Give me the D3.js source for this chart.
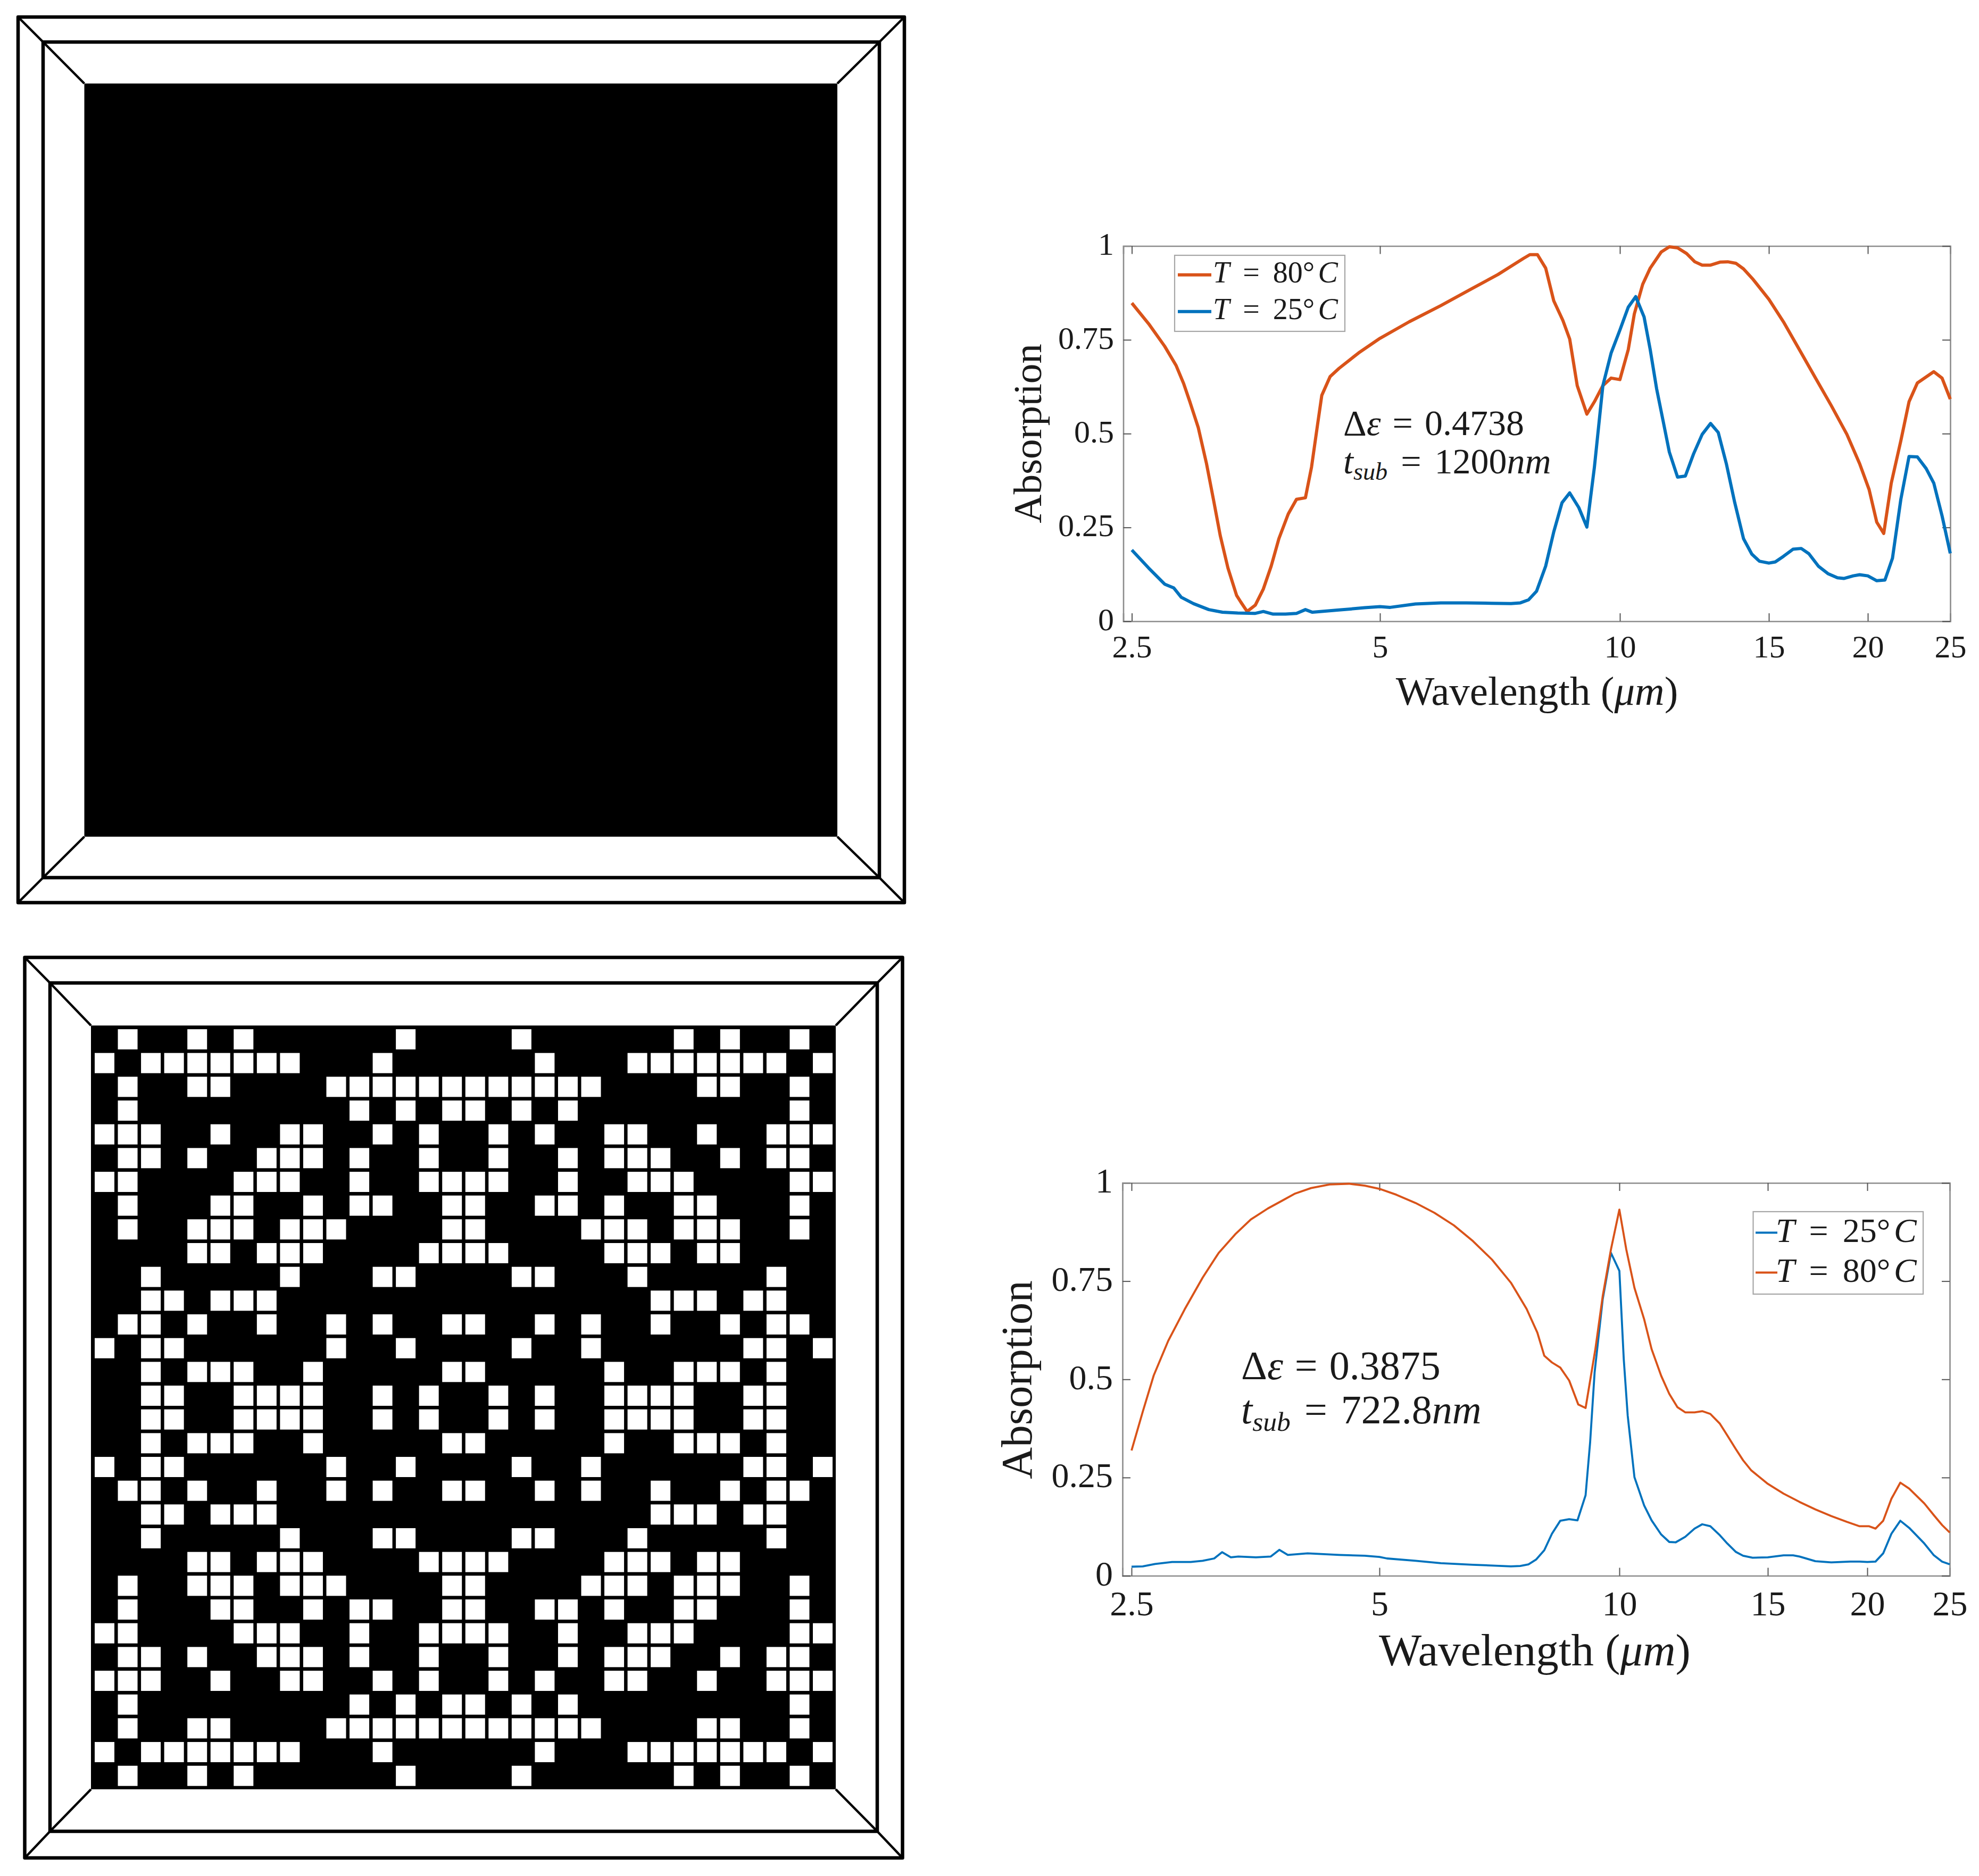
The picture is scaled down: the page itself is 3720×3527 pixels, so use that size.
<!DOCTYPE html>
<html>
<head>
<meta charset="utf-8">
<script src="https://cdn.jsdelivr.net/npm/d3@7"></script>
<style>
  html, body { margin: 0; background: #fff; }
  svg { display: block; }
  text { font-family: 'Liberation Serif', serif; fill: #1a1a1a; }
</style>
</head>
<body>
<svg width="3720" height="3527"></svg>
<script>
const xTicks = [2.5, 5, 10, 15, 20, 25];
const yTicks = [0, 0.25, 0.5, 0.75, 1];
const yTickLabels = ['0', '0.25', '0.5', '0.75', '1'];

// top chart
const wave80a = [2.50,2.62,2.74,2.83,2.89,2.94,3.01,3.08,3.14,3.20,3.27,3.35,3.39,3.45,3.53,3.61,3.69,3.77,3.87,3.96,4.06,4.13,4.20,4.25,4.35,4.46,4.71,5.00,5.44,5.96,6.53,7.03,7.57,7.71,7.88,8.07,8.26,8.48,8.65,8.84,9.09,9.29,9.52,9.75,10,10.23,10.40,10.64,10.86,11.19,11.44,11.70,11.99,12.26,12.51,12.80,13.13,13.41,13.71,14.00,14.37,15,15.65,16.39,17.16,17.97,18.82,19.53,20.07,20.49,20.88,21.31,21.87,22.36,22.87,23.91,24.45,25];
const abs80a = [.848,.793,.733,.681,.633,.585,.516,.420,.325,.229,.142,.069,.051,.026,.043,.086,.147,.220,.286,.325,.329,.411,.524,.602,.652,.674,.715,.754,.798,.841,.887,.924,.967,.977,.977,.941,.854,.802,.752,.628,.552,.585,.628,.648,.644,.724,.819,.898,.941,.984,.998,.995,.980,.958,.949,.949,.957,.958,.954,.939,.911,.858,.798,.724,.650,.576,.498,.420,.351,.264,.234,.368,.481,.585,.635,.665,.648,.592];
const wave25a = [2.50,2.62,2.74,2.81,2.87,2.97,3.10,3.22,3.36,3.53,3.61,3.71,3.84,3.96,4.06,4.14,4.46,4.79,5,5.15,5.54,5.96,6.42,6.90,7.30,7.50,7.68,7.86,8.07,8.26,8.46,8.65,8.88,9.09,9.29,9.52,9.75,10,10.23,10.44,10.68,10.86,11.05,11.25,11.44,11.70,11.95,12.22,12.51,12.80,13.07,13.36,13.67,14.00,14.32,14.62,15,15.28,15.65,16.09,16.48,16.85,17.32,17.81,18.31,18.65,19.17,19.53,20,20.49,20.95,21.38,21.87,22.36,22.87,23.42,23.91,24.45,25];
const abs25a = [.190,.142,.099,.089,.064,.047,.031,.024,.022,.021,.026,.019,.019,.021,.031,.024,.030,.036,.039,.037,.046,.049,.049,.048,.047,.049,.057,.080,.147,.238,.316,.342,.303,.251,.411,.628,.715,.776,.837,.865,.811,.724,.620,.533,.451,.384,.387,.446,.498,.527,.503,.420,.316,.220,.179,.160,.155,.158,.173,.192,.194,.180,.147,.127,.116,.114,.121,.124,.121,.108,.110,.168,.325,.439,.438,.407,.368,.281,.181];

// bottom chart
const wave80b = [2.50,2.58,2.66,2.77,2.90,3.05,3.19,3.34,3.49,3.66,3.81,3.95,4.13,4.35,4.59,4.80,5,5.25,5.55,5.86,6.20,6.55,6.92,7.31,7.65,7.89,8.05,8.23,8.43,8.65,8.88,9.07,9.33,9.53,9.76,10,10.19,10.42,10.70,10.92,11.21,11.46,11.72,11.97,12.28,12.54,12.82,13.16,13.43,13.74,14.02,14.34,15,15.70,16.44,17.21,18.02,18.86,19.56,20.10,20.45,20.88,21.35,21.87,22.40,23.34,23.95,24.49,25];
const abs80b = [.319,.418,.510,.598,.678,.759,.822,.869,.907,.935,.955,.973,.987,.996,.998,.993,.985,.970,.949,.924,.892,.852,.805,.746,.679,.619,.560,.543,.530,.497,.436,.427,.577,.712,.831,.932,.831,.733,.653,.577,.509,.463,.429,.416,.416,.419,.412,.387,.357,.323,.294,.268,.234,.209,.188,.169,.152,.137,.126,.126,.120,.140,.196,.237,.222,.184,.154,.129,.110];
const wave25b = [2.5,2.58,2.67,2.80,2.95,3.05,3.15,3.22,3.30,3.37,3.54,3.69,3.78,3.87,4.09,4.47,4.80,5,5.11,5.55,5.97,6.55,7.31,7.51,7.69,7.86,8.05,8.23,8.43,8.65,8.86,9.07,9.19,9.31,9.53,9.76,10,10.12,10.23,10.42,10.70,10.92,11.21,11.46,11.66,11.97,12.28,12.54,12.82,13.16,13.43,13.74,14.02,14.39,15,15.70,16.14,16.44,17.21,18.02,19.04,19.56,20,20.45,20.88,21.35,21.87,22.40,23.34,23.95,24.49,25];
const abs25b = [.023,.024,.030,.035,.035,.038,.044,.060,.047,.049,.047,.049,.066,.053,.057,.053,.051,.048,.044,.038,.032,.028,.024,.025,.029,.041,.065,.107,.140,.144,.141,.205,.340,.518,.704,.822,.776,.552,.408,.251,.179,.141,.105,.086,.085,.099,.120,.131,.126,.103,.082,.061,.051,.046,.047,.052,.052,.049,.037,.034,.036,.036,.035,.036,.057,.107,.140,.122,.082,.052,.036,.029];

// white cells of the lower pattern, one list of columns per row, left half of the upper half
const patternRows = [
  [1,4,6,13],
  [0,2,3,4,5,6,7,8,12],
  [1,4,5,10,11,12,13,14,15],
  [1,11,13,15],
  [0,1,2,5,8,9,12,14],
  [1,2,4,7,8,9,11,14],
  [0,1,6,7,8,11,14,15],
  [1,5,6,9,11,12,15],
  [1,4,5,6,8,9,10,15],
  [4,5,7,8,9,14,15],
  [2,8,12,13],
  [2,3,5,6,7],
  [1,2,4,7,10,12,15],
  [0,2,3,10,13],
  [2,4,5,6,9,15],
  [2,3,6,7,8,9,12,14]
];

const orange = '#D95319';
const blue = '#0072BD';
const gridSize = 32;

const svg = d3.select('svg');

// framed square: outer box, middle box, black centre, corner diagonals
function drawFrame(outer, middle, inner) {
  const g = svg.append('g');
  g.append('rect')
    .attr('x', inner.x0).attr('y', inner.y0)
    .attr('width', inner.x1 - inner.x0).attr('height', inner.y1 - inner.y0)
    .attr('fill', '#000');
  [outer, middle].forEach(b => {
    g.append('rect')
      .attr('x', b.x0).attr('y', b.y0)
      .attr('width', b.x1 - b.x0).attr('height', b.y1 - b.y0)
      .attr('fill', 'none').attr('stroke', '#000').attr('stroke-width', 6.5)
      .attr('stroke-linejoin', 'round');
  });
  [['x0','y0'], ['x1','y0'], ['x1','y1'], ['x0','y1']].forEach(([kx, ky]) => {
    g.append('polyline')
      .attr('points', [outer, middle, inner].map(b => `${b[kx]},${b[ky]}`).join(' '))
      .attr('fill', 'none').attr('stroke', '#000').attr('stroke-width', 4.5);
  });
  return g;
}

function addMath(g, x, y, size, parts) {
  const t = g.append('text')
    .attr('x', x).attr('y', y)
    .attr('font-size', size)
    .attr('xml:space', 'preserve');
  parts.forEach(p => {
    const s = t.append('tspan').text(p.t);
    if (p.i) s.attr('font-style', 'italic');
    if (p.dx) s.attr('dx', p.dx);
    if (p.dy) s.attr('dy', p.dy);
    if (p.size) s.attr('font-size', p.size);
  });
  return t;
}

function drawChart(c) {
  const x = d3.scaleLog().domain([c.xMin].concat(xTicks)).range(c.xRange);
  const y = d3.scaleLinear().domain([0, 1]).range([c.bottom, c.top]);
  const left = c.xRange[0];
  const right = c.xRange[c.xRange.length - 1];
  const g = svg.append('g');

  const styleAxis = a => {
    a.select('.domain').attr('stroke', '#8c8c8c').attr('stroke-width', 2.6);
    a.selectAll('.tick line').attr('stroke', '#555').attr('stroke-width', 2);
  };

  const bottomAxis = g.append('g')
    .attr('transform', `translate(0, ${c.bottom})`)
    .call(d3.axisBottom(x).tickValues(xTicks).tickFormat(d => d).tickSize(-15).tickPadding(0))
    .call(styleAxis);
  bottomAxis.selectAll('text')
    .attr('y', c.xLabelY - c.bottom).attr('dy', 0)
    .attr('font-size', c.tickSize).attr('font-family', 'Liberation Serif').attr('fill', '#1a1a1a');

  const leftAxis = g.append('g')
    .attr('transform', `translate(${left}, 0)`)
    .call(d3.axisLeft(y).tickValues(yTicks).tickFormat((d, i) => yTickLabels[i]).tickSize(-15).tickPadding(0))
    .call(styleAxis);
  leftAxis.selectAll('text')
    .attr('x', c.yLabelX - left).attr('dy', c.tickSize * 0.27)
    .attr('font-size', c.tickSize).attr('font-family', 'Liberation Serif').attr('fill', '#1a1a1a');

  g.append('g')
    .attr('transform', `translate(0, ${c.top})`)
    .call(d3.axisTop(x).tickValues(xTicks).tickFormat('').tickSize(-15))
    .call(styleAxis);
  g.append('g')
    .attr('transform', `translate(${right}, 0)`)
    .call(d3.axisRight(y).tickValues(yTicks).tickFormat('').tickSize(-15))
    .call(styleAxis);

  const line = d3.line()
    .x(d => x(d[0]))
    .y(d => y(d[1]));

  c.series.forEach(s => {
    g.append('path')
      .datum(d3.zip(s.wave, s.abs))
      .attr('d', line)
      .attr('fill', 'none')
      .attr('stroke', s.color)
      .attr('stroke-width', c.lineWidth)
      .attr('stroke-linejoin', 'round');
  });

  g.append('text')
    .attr('transform', `translate(${c.yTitle[0]}, ${c.yTitle[1]}) rotate(-90)`)
    .attr('text-anchor', 'middle')
    .attr('font-size', c.yTitle[2])
    .text('Absorption');

  addMath(g, c.xTitle[0], c.xTitle[1], c.xTitle[2], [
    {t: 'Wavelength ('}, {t: 'μm', i: true}, {t: ')'}
  ]).attr('text-anchor', 'middle');

  // legend
  const lg = c.legend;
  g.append('rect')
    .attr('x', lg.x0).attr('y', lg.y0)
    .attr('width', lg.x1 - lg.x0).attr('height', lg.y1 - lg.y0)
    .attr('fill', '#fff').attr('stroke', '#a6a6a6').attr('stroke-width', 2.2);
  lg.items.forEach(it => {
    g.append('line')
      .attr('x1', lg.lineX0).attr('x2', lg.lineX1)
      .attr('y1', it.y).attr('y2', it.y)
      .attr('stroke', it.color).attr('stroke-width', lg.lineWidth);
    addMath(g, lg.textX, it.y + lg.baseline, lg.fontSize, [
      {t: 'T', i: true},
      {t: '=', dx: lg.gap},
      {t: it.temp + '°', dx: lg.gap},
      {t: 'C', i: true, dx: lg.gap * 0.25}
    ]);
  });

  // annotation
  const an = c.note;
  addMath(g, an.x, an.y0, an.size, [
    {t: 'Δ'}, {t: 'ε', i: true}, {t: ' = ', dx: an.gap0}, {t: an.delta, dx: an.gap0}
  ]);
  addMath(g, an.x, an.y1, an.size, [
    {t: 't', i: true},
    {t: 'sub', i: true, size: an.size * 0.68, dy: an.size * 0.18},
    {t: ' = ', dy: -an.size * 0.18, dx: an.gap1},
    {t: an.thick, dx: an.gap1},
    {t: 'nm', i: true}
  ]);
}

// top pattern, solid black
drawFrame(
  {x0: 34, y0: 32, x1: 1700, y1: 1697},
  {x0: 81, y0: 79, x1: 1653, y1: 1650},
  {x0: 158.5, y0: 157, x1: 1574, y1: 1573}
);

// bottom pattern
const patternFrame = drawFrame(
  {x0: 46.5, y0: 1800, x1: 1696.5, y1: 3493},
  {x0: 94, y0: 1848, x1: 1649, y1: 3443},
  {x0: 171, y0: 1928, x1: 1571, y1: 3364}
);

const colBand = d3.scaleBand().domain(d3.range(gridSize)).range([178, 1565]).paddingInner(0.15);
const rowBand = d3.scaleBand().domain(d3.range(gridSize)).range([1935, 3357.7]).paddingInner(0.15);

const whiteCells = [];
patternRows.forEach((cols, r) => {
  cols.forEach(col => {
    [[r, col], [r, gridSize - 1 - col], [gridSize - 1 - r, col], [gridSize - 1 - r, gridSize - 1 - col]]
      .forEach(cell => whiteCells.push(cell));
  });
});

patternFrame.selectAll('.cell')
  .data(whiteCells)
  .enter()
  .append('rect')
  .attr('class', 'cell')
  .attr('x', d => colBand(d[1]))
  .attr('y', d => rowBand(d[0]))
  .attr('width', colBand.bandwidth())
  .attr('height', rowBand.bandwidth())
  .attr('fill', '#fff');

drawChart({
  xMin: 2.44,
  xRange: [2111.5, 2127.5, 2594, 3045, 3325, 3511, 3666],
  top: 462.5,
  bottom: 1168,
  tickSize: 60,
  xLabelY: 1236,
  yLabelX: 2094,
  lineWidth: 6,
  yTitle: [1957, 815, 75],
  xTitle: [2889, 1325, 77],
  series: [
    {wave: wave80a, abs: abs80a, color: orange},
    {wave: wave25a, abs: abs25a, color: blue}
  ],
  legend: {
    x0: 2208, y0: 480, x1: 2528, y1: 623,
    lineX0: 2214, lineX1: 2277, lineWidth: 6,
    textX: 2280, baseline: 14, fontSize: 56, gap: 25,
    items: [
      {y: 516.7, color: orange, temp: '80'},
      {y: 585.7, color: blue, temp: '25'}
    ]
  },
  note: {x: 2525, y0: 818, y1: 890, size: 68, delta: '0.4738', thick: '1200', gap0: 5, gap1: 8}
});

drawChart({
  xMin: 2.44,
  xRange: [2110, 2127, 2593, 3044, 3323, 3510, 3665],
  top: 2224,
  bottom: 2962.5,
  tickSize: 66,
  xLabelY: 3037,
  yLabelX: 2092,
  lineWidth: 3.8,
  yTitle: [1939, 2594, 83],
  xTitle: [2885, 3131, 85],
  series: [
    {wave: wave25b, abs: abs25b, color: blue},
    {wave: wave80b, abs: abs80b, color: orange}
  ],
  legend: {
    x0: 3295.5, y0: 2278, x1: 3615, y1: 2433,
    lineX0: 3300, lineX1: 3341, lineWidth: 3.8,
    textX: 3338, baseline: 17, fontSize: 64, gap: 27,
    items: [
      {y: 2317.5, color: blue, temp: '25'},
      {y: 2392.5, color: orange, temp: '80'}
    ]
  },
  note: {x: 2333, y0: 2593, y1: 2676, size: 76, delta: '0.3875', thick: '722.8', gap0: 3, gap1: 7}
});
</script>
</body>
</html>
